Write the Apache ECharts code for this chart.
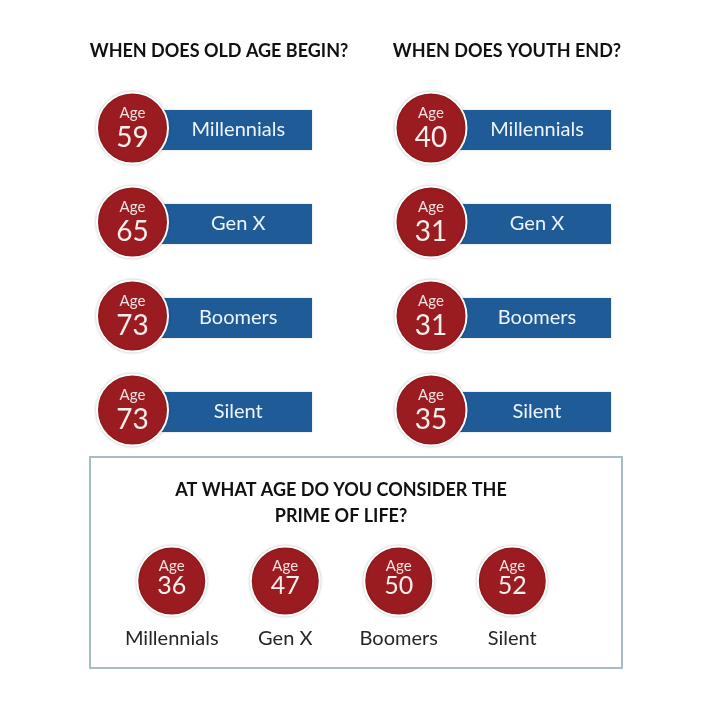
<!DOCTYPE html>
<html>
<head>
<meta charset="utf-8">
<script src="https://cdn.jsdelivr.net/npm/echarts@6/dist/echarts.min.js"></script>
<style>
    html, body { margin: 0; padding: 0; background: #fff; }
    #main { width: 720px; height: 728px; }
</style>
</head>
<body>
<div id="main"></div>
<script>
// 数据
var generations = ['Millennials', 'Gen X', 'Boomers', 'Silent'];
var oldAgeBegins = [59, 65, 73, 73];
var youthEnds = [40, 31, 31, 35];
var primeOfLife = [36, 47, 50, 52];
var ageWord = 'Age';
var titleOldAge = 'WHEN DOES OLD AGE BEGIN?';
var titleYouth = 'WHEN DOES YOUTH END?';
var titlePrime = 'AT WHAT AGE DO YOU CONSIDER THE\nPRIME OF LIFE?';

var RED = '#9b1c20';
var BLUE = '#1f5c97';
var FONT = 'Lato';

function toItems(arr) {
    return arr.map(function (v, i) { return [i, v]; });
}

// 圆形 + "Age" + 数字
function ageBadge(cx, cy, r, age, numSize, ageOffset, numOffset) {
    return [{
        type: 'circle',
        shape: {cx: cx, cy: cy, r: r},
        style: {
            fill: RED,
            stroke: '#fff',
            lineWidth: 2,
            shadowBlur: 3,
            shadowColor: 'rgba(0,0,0,0.22)'
        }
    }, {
        type: 'text',
        style: {
            x: cx, y: cy + ageOffset,
            text: ageWord,
            fill: '#f3e2e2',
            font: '15px ' + FONT,
            align: 'center',
            verticalAlign: 'middle'
        }
    }, {
        type: 'text',
        style: {
            x: cx, y: cy + numOffset,
            text: String(age),
            fill: '#f8eeee',
            font: numSize + 'px ' + FONT,
            align: 'center',
            verticalAlign: 'middle'
        }
    }];
}

// 左右两列：圆 + 蓝色条
function renderRow(params, api) {
    var idx = api.value(0);
    var age = api.value(1);
    var p0 = api.coord([0, idx]);
    var p1 = api.coord([1, idx]);
    var barH = 40;
    var barY = p0[1] - barH / 2 + 2;
    var children = [{
        type: 'rect',
        shape: {x: p0[0], y: barY, width: p1[0] - p0[0], height: barH},
        style: {fill: BLUE, shadowBlur: 2, shadowColor: 'rgba(0,0,0,0.2)'}
    }, {
        type: 'text',
        style: {
            x: (p0[0] + 32 + p1[0]) / 2,
            y: barY + barH / 2,
            text: generations[idx],
            fill: '#eef4fb',
            font: '20px ' + FONT,
            align: 'center',
            verticalAlign: 'middle'
        }
    }];
    return {type: 'group', children: children.concat(ageBadge(p0[0], p0[1], 35.5, age, 28, -15, 10))};
}

// 底部：一排圆
function renderPrime(params, api) {
    var idx = api.value(0);
    var age = api.value(1);
    var p = api.coord([idx, 0]);
    return {type: 'group', children: ageBadge(p[0], p[1], 34.5, age, 25, -15, 5)};
}

var myChart = echarts.init(document.getElementById('main'));

var titleStyle = {color: '#111', fontFamily: FONT, fontWeight: 'bold', fontSize: 18};

var option = {
    animation: false,
    backgroundColor: '#fff',
    title: [{
        text: titleOldAge, left: 219, top: 42, textAlign: 'center', padding: 0,
        textStyle: titleStyle
    }, {
        text: titleYouth, left: 507, top: 42, textAlign: 'center', padding: 0,
        textStyle: titleStyle
    }, {
        text: titlePrime, left: 341, top: 477, textAlign: 'center', padding: 0,
        textStyle: {color: '#111', fontFamily: FONT, fontWeight: 'bold', fontSize: 18, lineHeight: 26}
    }],
    graphic: [{
        type: 'rect',
        shape: {x: 90, y: 457, width: 532, height: 211},
        style: {fill: 'none', stroke: '#a7bcc3', lineWidth: 2}
    }],
    grid: [
        {left: 132.5, top: 81, width: 179.5, height: 376},
        {left: 431, top: 81, width: 180, height: 376},
        {left: 115, top: 546, width: 454, height: 70}
    ],
    xAxis: [
        {gridIndex: 0, type: 'value', min: 0, max: 1, show: false},
        {gridIndex: 1, type: 'value', min: 0, max: 1, show: false},
        {
            gridIndex: 2, type: 'category', data: generations,
            axisLine: {show: false}, axisTick: {show: false},
            axisLabel: {
                interval: 0, hideOverlap: false,
                color: '#262626', fontFamily: FONT, fontSize: 20, margin: 13
            }
        }
    ],
    yAxis: [
        {gridIndex: 0, type: 'category', data: generations, inverse: true, show: false},
        {gridIndex: 1, type: 'category', data: generations, inverse: true, show: false},
        {gridIndex: 2, type: 'value', min: -1, max: 1, show: false}
    ],
    series: [{
        name: 'Old age begins',
        type: 'custom',
        xAxisIndex: 0, yAxisIndex: 0,
        renderItem: renderRow,
        encode: {y: 0, tooltip: 1},
        data: toItems(oldAgeBegins)
    }, {
        name: 'Youth ends',
        type: 'custom',
        xAxisIndex: 1, yAxisIndex: 1,
        renderItem: renderRow,
        encode: {y: 0, tooltip: 1},
        data: toItems(youthEnds)
    }, {
        name: 'Prime of life',
        type: 'custom',
        xAxisIndex: 2, yAxisIndex: 2,
        renderItem: renderPrime,
        encode: {x: 0, tooltip: 1},
        data: toItems(primeOfLife)
    }]
};

myChart.setOption(option);
</script>
</body>
</html>
